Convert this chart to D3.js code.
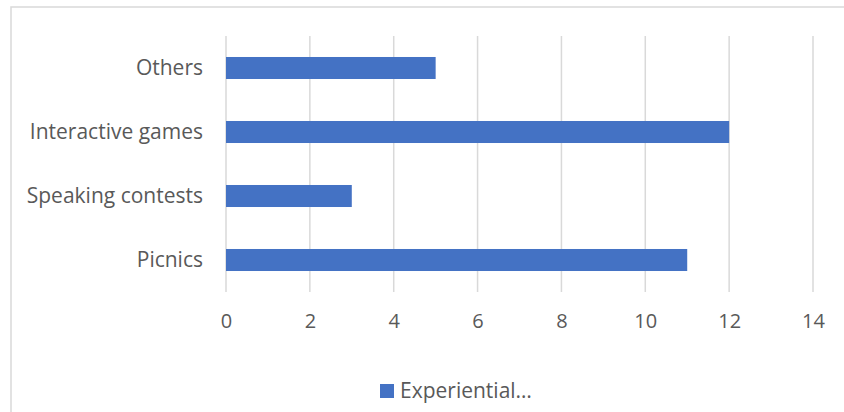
<!DOCTYPE html>
<html>
<head>
<meta charset="utf-8">
<script src="https://cdn.jsdelivr.net/npm/d3@7"></script>
<style>
  html, body { margin: 0; padding: 0; background: #fff; }
  svg { display: block; font-family: "Open Sans", sans-serif; }
</style>
</head>
<body>
<div id="wrapper"></div>
<script>
const categories = ["Others", "Interactive games", "Speaking contests", "Picnics"];
const values = [5, 12, 3, 11];
const xTicks = [0, 2, 4, 6, 8, 10, 12, 14];
const seriesName = "Experiential…";

const data = categories.map((c, i) => ({ category: c, value: values[i] }));

let dimensions = {
  width: 844,
  height: 412,
  margin: { top: 36, right: 31, bottom: 120, left: 226 },
};
dimensions.boundedWidth = dimensions.width - dimensions.margin.left - dimensions.margin.right;
dimensions.boundedHeight = dimensions.height - dimensions.margin.top - dimensions.margin.bottom;

const svg = d3.select("#wrapper").append("svg")
  .attr("width", dimensions.width)
  .attr("height", dimensions.height);

// chart frame (runs off the right and bottom edges)
svg.append("rect")
  .attr("x", 11).attr("y", 7)
  .attr("width", 900).attr("height", 500)
  .attr("fill", "#fff")
  .attr("stroke", "#d9d9d9")
  .attr("stroke-width", 1.5);

const bounds = svg.append("g")
  .attr("transform", `translate(${dimensions.margin.left},${dimensions.margin.top})`);

const xScale = d3.scaleLinear()
  .domain([0, 14])
  .range([0, dimensions.boundedWidth]);

const yScale = d3.scaleBand()
  .domain(categories)
  .range([0, dimensions.boundedHeight])
  .paddingInner(0.656)
  .paddingOuter(0.328);

// gridlines
bounds.append("g")
  .selectAll("line")
  .data(xTicks)
  .join("line")
  .attr("x1", d => xScale(d)).attr("x2", d => xScale(d))
  .attr("y1", 0).attr("y2", dimensions.boundedHeight)
  .attr("stroke", "#d9d9d9")
  .attr("stroke-width", 1.5);

// bars
bounds.append("g")
  .selectAll("rect")
  .data(data)
  .join("rect")
  .attr("x", xScale(0))
  .attr("y", d => yScale(d.category))
  .attr("width", d => xScale(d.value) - xScale(0))
  .attr("height", yScale.bandwidth())
  .attr("fill", "#4472c4");

// x axis
const xAxis = bounds.append("g")
  .attr("transform", `translate(0,${dimensions.boundedHeight})`)
  .call(d3.axisBottom(xScale).tickValues(xTicks).tickSize(0).tickPadding(22));
xAxis.select(".domain").remove();
xAxis.selectAll("text")
  .attr("fill", "#595959")
  .style("font-size", "20px")
  .style("font-family", "Open Sans, sans-serif");

// y axis
const yAxis = bounds.append("g")
  .call(d3.axisLeft(yScale).tickSize(0).tickPadding(23));
yAxis.select(".domain").remove();
yAxis.selectAll("text")
  .attr("fill", "#595959")
  .style("font-size", "21px")
  .style("font-family", "Open Sans, sans-serif");

// legend
const legend = svg.append("g").attr("transform", "translate(380,384)");
legend.append("rect")
  .attr("width", 14).attr("height", 14)
  .attr("fill", "#4472c4");
legend.append("text")
  .attr("x", 20).attr("y", 7)
  .attr("dy", "0.35em")
  .attr("fill", "#595959")
  .style("font-size", "21px")
  .text(seriesName);
</script>
</body>
</html>
